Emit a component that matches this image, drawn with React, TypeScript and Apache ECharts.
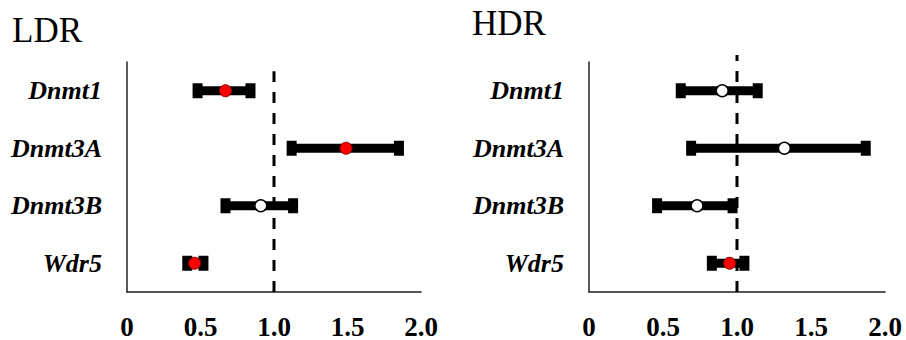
import React, { useEffect, useRef } from "react";
import * as echarts from "echarts";

const genes = ["Dnmt1", "Dnmt3A", "Dnmt3B", "Wdr5"];
const tickLabels = ["0", "0.5", "1.0", "1.5", "2.0"];

const ldrMean = [0.67, 1.49, 0.91, 0.46];
const ldrLow = [0.48, 1.12, 0.67, 0.41];
const ldrHigh = [0.84, 1.85, 1.13, 0.52];
const ldrSignificant = [true, true, false, true];

const hdrMean = [0.9, 1.32, 0.73, 0.95];
const hdrLow = [0.62, 0.69, 0.46, 0.83];
const hdrHigh = [1.14, 1.87, 0.97, 1.05];
const hdrSignificant = [false, false, false, true];

const panelTitles = ["LDR", "HDR"];
const referenceValue = 1.0;

const SERIF = "Liberation Serif";

function errorSeries(idx: number, low: number[], high: number[]) {
  return {
    type: "custom",
    xAxisIndex: idx,
    yAxisIndex: idx * 2,
    silent: true,
    z: 2,
    data: genes.map((g, i) => [i, low[i], high[i]]),
    encode: { x: [1, 2], y: 0 },
    renderItem: (params: any, api: any) => {
      const cat = api.value(0);
      const p1 = api.coord([api.value(1), cat]);
      const p2 = api.coord([api.value(2), cat]);
      const barH = 9;
      const capW = 10;
      const capH = 15;
      return {
        type: "group",
        children: [
          {
            type: "rect",
            shape: { x: p1[0], y: p1[1] - barH / 2, width: p2[0] - p1[0], height: barH },
            style: { fill: "#000" },
          },
          {
            type: "rect",
            shape: { x: p1[0] - capW / 2, y: p1[1] - capH / 2, width: capW, height: capH },
            style: { fill: "#000" },
          },
          {
            type: "rect",
            shape: { x: p2[0] - capW / 2, y: p2[1] - capH / 2, width: capW, height: capH },
            style: { fill: "#000" },
          },
        ],
      };
    },
  };
}

function pointSeries(idx: number, mean: number[], sig: boolean[]) {
  return {
    type: "scatter",
    xAxisIndex: idx,
    yAxisIndex: idx * 2,
    symbol: "circle",
    symbolSize: 12,
    z: 4,
    data: genes.map((g, i) => ({
      value: [mean[i], g],
      itemStyle: sig[i]
        ? { color: "#ff0000", borderColor: "#8a0000", borderWidth: 1, opacity: 1 }
        : { color: "#ffffff", borderColor: "#000000", borderWidth: 1.5, opacity: 1 },
    })),
  };
}

function refLine(idx: number, top: number) {
  return {
    type: "line",
    xAxisIndex: idx,
    yAxisIndex: idx * 2 + 1,
    symbol: "none",
    silent: true,
    clip: false,
    z: 3,
    lineStyle: { color: "#000", width: 3, type: [11, 10] },
    data: [
      [referenceValue, 0],
      [referenceValue, top],
    ],
  };
}

export default function App() {
  const ref = useRef<HTMLDivElement>(null);
  useEffect(() => {
    document.body.style.margin = "0";
    if (!ref.current) return;
    const chart = echarts.init(ref.current, undefined, { renderer: "svg" });
    const grids = [
      { left: 127, top: 62, width: 294, height: 235 },
      { left: 589, top: 62, width: 296, height: 235 },
    ];
    const xAxes = grids.map((g, i) => ({
      type: "value",
      gridIndex: i,
      min: 0,
      max: 2,
      interval: 0.5,
      axisLine: { show: true, lineStyle: { color: "#222", width: 1.5 } },
      axisTick: { show: false },
      splitLine: { show: false },
      axisLabel: {
        margin: 21,
        fontFamily: SERIF,
        fontWeight: "bold",
        fontSize: 27,
        color: "#000",
        formatter: (v: number) => tickLabels[Math.round(v / 0.5)] ?? "",
      },
    }));
    const yAxes: any[] = [];
    grids.forEach((g, i) => {
      yAxes.push({
        type: "category",
        gridIndex: i,
        data: genes,
        inverse: true,
        axisLine: { show: true, lineStyle: { color: "#222", width: 1.5 } },
        axisTick: { show: false },
        splitLine: { show: false },
        axisLabel: {
          margin: 25,
          fontFamily: SERIF,
          fontWeight: "bold",
          fontStyle: "italic",
          fontSize: 26,
          color: "#000",
        },
      });
      yAxes.push({
        type: "value",
        gridIndex: i,
        min: 0,
        max: 1,
        show: false,
      });
    });
    chart.setOption({
      animation: false,
      grid: grids,
      xAxis: xAxes,
      yAxis: yAxes,
      graphic: [
        {
          type: "text",
          left: 12,
          top: 13,
          style: { text: panelTitles[0], font: `35px ${SERIF}`, fill: "#000" },
        },
        {
          type: "text",
          left: 472,
          top: 6,
          style: { text: panelTitles[1], font: `35px ${SERIF}`, fill: "#000" },
        },
      ],
      series: [
        errorSeries(0, ldrLow, ldrHigh),
        refLine(0, 0.96),
        pointSeries(0, ldrMean, ldrSignificant),
        errorSeries(1, hdrLow, hdrHigh),
        refLine(1, 1.03),
        pointSeries(1, hdrMean, hdrSignificant),
      ],
    });
    return () => chart.dispose();
  }, []);
  return <div ref={ref} style={{ width: 906, height: 340 }} />;
}
